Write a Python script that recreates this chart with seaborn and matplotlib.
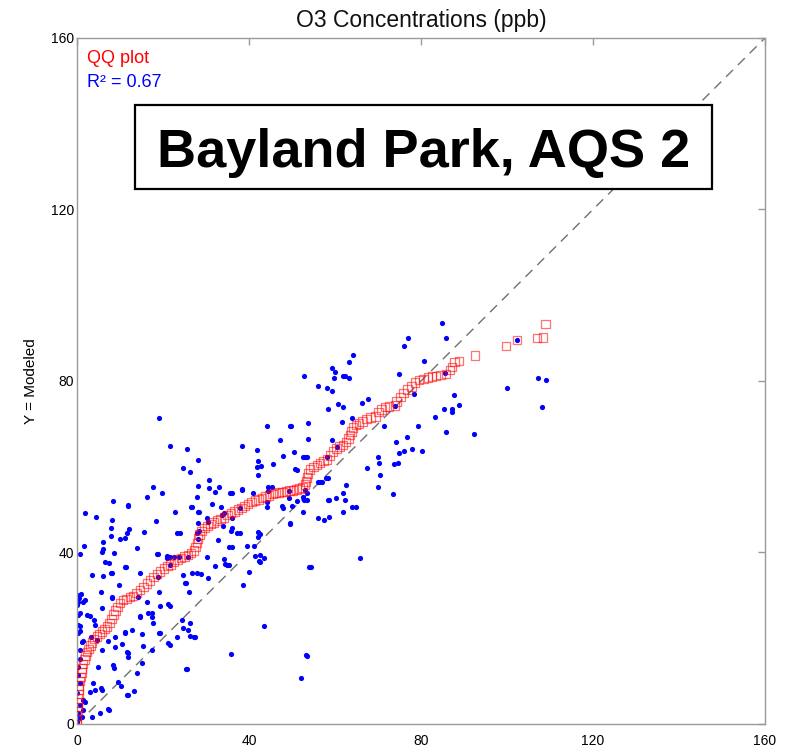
import numpy as np
import pandas as pd
import seaborn as sns
import matplotlib.pyplot as plt
from matplotlib.patches import Rectangle

obs = [0.0, 0.3, 1.1, 3.5, 0.2, 5.3, 1.4, 7.2, 7.4, 0.7, 1.9, 1.4, 0.0, 3.0, 4.2, 5.8, 5.6, 3.7, 0.7, 9.5,
       0.2, 0.2, 4.9, 8.4, 8.6, 0.7, 0.7, 5.8, 8.8, 1.1, 1.4, 4.7, 7.2, 3.3, 8.8, 0.2, 0.7, 0.7, 0.2, 4.2,
       4.0, 0.2, 2.3, 3.0, 0.7, 5.8, 0.0, 0.2, 1.4, 1.8, 0.5, 0.0, 1.0, 8.1, 8.1, 5.6, 9.8, 3.5, 6.0, 8.1,
       7.9, 6.5, 7.4, 0.7, 5.8, 6.0, 8.6, 1.6, 6.0, 7.9, 7.9, 1.9, 4.4, 8.1, 8.4,
       10.2, 11.9, 11.6, 13.3, 14.0, 15.1, 11.9, 11.6, 11.9, 15.3, 10.5, 17.4, 11.2, 12.8, 11.2, 15.1, 19.3,
       19.1, 14.7, 14.7, 16.5, 17.4, 17.4, 17.7, 14.2, 16.3, 19.3, 19.1, 18.8, 14.7, 11.4, 11.2, 18.6, 18.8,
       14.0, 11.6, 12.1, 11.2, 10.0, 15.6, 18.4, 11.9, 11.9, 16.3, 17.7, 19.8, 19.1,
       21.6, 21.2, 23.3, 24.7, 24.4, 25.8, 26.3, 26.3, 27.4, 27.2, 25.3, 25.6, 21.6, 21.2, 26.0, 25.1, 25.3,
       24.7, 26.7, 27.9, 28.8, 20.9, 21.6, 20.9, 22.6, 23.8, 25.8, 21.6, 23.3, 24.0, 27.9, 28.1, 28.1, 28.4,
       22.8, 26.5, 26.7, 28.1, 28.4, 27.9, 28.1, 24.7, 26.3, 28.1, 21.6, 25.6,
       30.2, 30.5, 32.1, 34.2, 34.4, 34.9, 35.3, 35.3, 32.8, 35.8, 36.0, 37.2, 37.9, 36.0, 34.0, 30.5, 33.7,
       36.0, 33.5, 31.4, 30.2, 34.2, 37.9, 30.7, 30.7, 32.1, 33.0, 35.6, 36.0, 38.4, 38.4, 38.4, 35.8, 38.6,
       39.5,
       40.0, 41.4, 42.6, 42.3, 42.6, 43.5, 41.2, 42.1, 42.1, 42.6, 40.9, 44.2, 44.2, 44.4, 44.4, 45.3, 42.1,
       41.9, 42.8, 42.1, 41.9, 45.6, 44.2, 47.2, 47.9, 49.5, 49.8, 47.7, 47.9, 49.5, 49.5, 49.3, 43.5, 49.3,
       50.5, 50.7, 51.2, 52.6, 53.5, 53.0, 53.7, 53.7, 52.8, 52.8, 53.5, 53.5, 52.6, 50.0, 51.2, 52.6, 53.0,
       54.0, 54.4, 53.3, 53.5, 52.1, 56.0, 58.1, 59.3, 59.3, 60.0, 59.8, 58.4, 59.3, 58.1, 57.9, 56.0, 56.5,
       58.6, 56.0, 57.4, 58.6, 57.0, 58.4, 58.4,
       60.2, 62.6, 61.9, 62.3, 64.0, 64.9, 61.9, 60.5, 60.7, 61.9, 61.6, 64.0, 66.3, 67.7, 61.9, 62.3, 63.3,
       63.3, 64.2, 67.4, 65.8,
       70.0, 70.2, 70.5, 70.0, 73.7, 74.7, 73.5, 74.9, 76.0, 77.9, 80.2, 74.2, 76.7, 79.3, 74.0, 78.4, 74.9,
       76.0, 77.0, 80.7, 84.9, 85.8, 83.3, 85.8, 85.3, 87.2, 87.2, 88.8, 87.7, 92.3, 85.6, 100.0, 107.2,
       109.1, 108.1, 102.3, 71.4]
mod = [0.5, 1.5, 1.6, 1.6, 2.6, 2.6, 3.3, 3.5, 3.2, 4.5, 5.1, 5.6, 7.2, 7.5, 7.9, 7.9, 8.4, 9.6, 9.6, 9.8,
       11.5, 13.3, 13.3, 13.8, 13.1, 15.2, 17.3, 17.3, 18.0, 19.1, 19.3, 19.6, 19.4, 20.3, 20.3, 21.2, 21.6,
       22.9, 23.1, 23.1, 24.3, 25.4, 25.4, 25.2, 25.9, 27.1, 27.8, 28.5, 28.5, 28.9, 29.3, 30.0, 30.2, 29.4,
       29.6, 30.8, 32.4, 34.8, 34.5, 35.2, 35.2, 37.8, 37.6, 39.7, 40.1, 40.8, 39.9, 41.5, 42.4, 43.8, 45.7,
       49.2, 48.3, 47.6, 52.0,
       8.9, 6.8, 6.8, 7.7, 11.9, 14.2, 16.6, 16.8, 15.6, 18.2, 18.7, 17.3, 21.2, 21.9, 21.5, 21.0, 21.2, 21.2,
       25.2, 25.0, 25.9, 25.0, 25.9, 23.6, 29.6, 28.5, 27.5, 30.8, 34.3, 35.2, 36.6, 36.6, 39.7, 39.7, 41.0,
       44.5, 45.5, 43.4, 43.2, 44.8, 47.3, 50.8, 51.1, 52.9, 55.3, 53.9, 71.4,
       18.4, 18.9, 20.3, 22.4, 24.3, 21.9, 23.6, 20.5, 20.3, 20.3, 12.8, 12.8, 27.5, 28.0, 30.8, 32.9, 32.9,
       34.8, 35.2, 35.2, 35.0, 38.7, 39.0, 39.2, 39.0, 39.0, 38.9, 37.1, 44.5, 44.5, 44.5, 43.1, 46.9, 45.0,
       49.4, 50.6, 50.6, 49.4, 49.4, 52.9, 55.5, 59.7, 58.8, 61.6, 64.8, 64.1,
       39.0, 34.0, 36.9, 38.5, 37.3, 37.1, 37.0, 41.3, 42.9, 45.0, 45.7, 44.5, 44.5, 41.3, 46.2, 47.1, 48.7,
       48.0, 50.6, 51.3, 48.0, 49.2, 50.4, 56.9, 55.0, 54.1, 55.3, 53.9, 53.9, 54.6, 54.8, 64.8, 16.3, 32.4,
       41.5,
       35.5, 39.2, 39.4, 38.0, 37.8, 38.7, 41.5, 43.6, 44.8, 44.2, 53.9, 51.8, 50.6, 54.3, 55.3, 55.3, 58.1,
       59.9, 60.2, 61.3, 63.9, 60.6, 69.5, 66.2, 62.5, 69.5, 69.5, 50.8, 50.4, 46.6, 46.9, 54.3, 22.9, 52.7,
       63.4, 59.5, 59.3, 62.3, 62.3, 62.3, 70.2, 66.5, 81.2, 52.2, 53.9, 52.2, 52.9, 50.8, 52.0, 49.4, 54.6,
       36.6, 36.6, 16.1, 15.9, 10.7, 78.8, 78.4, 77.7, 83.0, 82.1, 80.7, 73.5, 66.2, 62.3, 57.4, 56.4, 56.5,
       52.2, 48.0, 47.6, 48.3, 56.4, 57.4, 52.2,
       52.7, 55.7, 53.9, 52.2, 50.6, 50.6, 49.4, 64.6, 74.6, 73.9, 70.4, 71.4, 74.9, 75.8, 81.2, 81.2, 80.7,
       84.4, 86.1, 59.7, 38.7,
       62.3, 60.9, 58.1, 55.3, 60.6, 60.9, 53.6, 63.2, 63.7, 64.1, 63.7, 65.8, 66.9, 69.5, 74.2, 77.0, 81.6,
       88.2, 90.0, 84.7, 93.5, 90.0, 71.6, 68.1, 73.5, 73.5, 72.8, 74.4, 76.7, 67.6, 81.9, 78.4, 80.7,
       80.2, 73.9, 89.6, 69.5]

qq_obs = [0.0, 0.0, 0.0, 0.1, 0.1, 0.2, 0.2, 0.3, 0.4, 0.5, 0.6, 0.8, 1.0, 1.2, 1.4, 1.7, 2.0, 2.3, 2.7, 3.1,
          3.5, 4.0, 4.6, 5.2, 5.8, 6.4, 7.0, 7.5, 8.0, 8.5, 9.0, 9.4, 10.0, 10.7, 11.5, 12.3, 13.0, 13.8,
          14.7, 15.5, 16.3, 17.0, 17.8, 18.6, 19.3, 20.2, 21.0, 21.8, 22.6, 23.4, 24.2, 25.0, 25.8, 26.5,
          27.2, 27.6, 27.9, 28.1, 28.5, 29.0, 29.6, 30.3, 31.0, 31.8, 32.6, 33.4, 34.2, 35.0, 35.8, 36.6,
          37.4, 38.2, 39.0, 39.8, 40.6, 41.4, 42.2, 43.0, 43.8, 44.6, 45.4, 46.2, 47.0, 47.8, 48.6, 49.4,
          50.2, 51.0, 51.8, 52.5, 53.0, 53.3, 53.5, 53.7, 54.2, 55.0, 55.8, 56.5, 57.3, 58.1, 58.8, 59.5,
          60.3, 61.1, 61.9, 62.6, 63.2, 63.5, 63.8, 64.2, 64.9, 65.6, 66.4, 67.3, 68.2, 69.4, 70.1, 70.8,
          71.6, 72.6, 74.0, 74.3, 75.2, 75.9, 76.8, 77.8, 78.6, 79.5, 80.6, 81.6, 82.6, 83.5, 84.5, 85.8,
          86.7, 87.2, 87.8, 88.8, 92.6, 99.8, 102.3, 107.0, 108.4, 109.0]
qq_mod = [0.0, 1.0, 2.0, 3.0, 4.0, 5.0, 6.0, 7.0, 8.0, 9.0, 10.0, 11.0, 12.0, 13.0, 14.0, 15.0, 16.0, 16.8,
          17.5, 18.3, 19.0, 19.8, 20.4, 21.0, 21.6, 22.2, 22.8, 23.6, 24.5, 25.5, 26.5, 27.3, 28.2, 28.9,
          29.2, 29.6, 29.9, 30.5, 31.2, 32.0, 32.8, 33.5, 34.3, 35.0, 35.5, 36.3, 36.8, 37.2, 37.8, 38.3,
          38.7, 39.0, 39.4, 39.9, 40.5, 41.3, 42.2, 43.2, 44.2, 45.0, 45.7, 46.2, 46.6, 47.0, 47.4, 47.8,
          48.2, 48.7, 49.2, 49.6, 50.0, 50.4, 50.8, 51.3, 51.8, 52.1, 52.4, 52.7, 53.0, 53.3, 53.6, 53.9,
          54.0, 54.1, 54.2, 54.4, 54.5, 54.7, 54.9, 55.2, 55.8, 56.6, 57.5, 58.4, 59.3, 59.9, 60.4, 60.9,
          61.3, 61.7, 62.6, 63.6, 64.2, 64.7, 65.1, 65.8, 66.6, 67.4, 68.2, 69.2, 69.7, 70.1, 70.5, 71.1,
          71.5, 71.7, 72.8, 73.4, 73.9, 74.1, 74.3, 75.2, 76.3, 77.2, 78.0, 78.7, 79.6, 80.2, 80.5, 80.8,
          81.0, 81.2, 81.4, 81.6, 82.6, 83.3, 84.4, 84.7, 86.0, 88.2, 89.6, 90.0, 90.1, 93.3]

axis_lim = [0, 160]
ticks = [0, 40, 80, 120, 160]

df = pd.DataFrame({'obs': obs, 'mod': mod})
qq = pd.DataFrame({'obs': qq_obs, 'mod': qq_mod})

sns.set_theme(style='white')
plt.rcParams['font.family'] = ['Liberation Sans', 'DejaVu Sans']
plt.rcParams['text.color'] = 'black'
plt.rcParams['axes.labelcolor'] = 'black'
plt.rcParams['xtick.labelcolor'] = 'black'
plt.rcParams['ytick.labelcolor'] = 'black'

fig = plt.figure(figsize=(7.89, 7.49), dpi=100)
ax = fig.add_axes([0.0976, 0.0334, 0.872, 0.9159])

# 1:1 line
ax.plot(axis_lim, axis_lim, color='#707070', lw=1, dashes=(7, 5), zorder=1)

sns.scatterplot(data=df, x='obs', y='mod', ax=ax, color='#0000ff', marker='o',
                s=14, linewidth=0, zorder=2)
sns.scatterplot(data=qq, x='obs', y='mod', ax=ax, marker='s', s=38,
                facecolor='none', edgecolor='#ff0000', linewidth=0.9, alpha=0.55, zorder=3)

ax.set_xlim(axis_lim)
ax.set_ylim(axis_lim)
ax.set_xticks(ticks)
ax.set_yticks(ticks)
ax.set_xlabel('')
ax.set_ylabel('Y = Modeled', fontsize=11)
ax.yaxis.set_label_coords(-0.057, 0.5)
ax.set_title('O3 Concentrations (ppb)', fontsize=16.5, pad=8, color='#111111')

for sp in ax.spines.values():
    sp.set_visible(True)
    sp.set_color('#9a9a9a')
    sp.set_linewidth(1)
ax.tick_params(direction='in', length=5, width=1, color='#9a9a9a',
               top=True, right=True, labelsize=10)
ax.tick_params(axis='x', pad=7)
ax.tick_params(axis='y', pad=2)

ax.text(0.0145, 0.9636, 'QQ plot', color='#ff0000', fontsize=13,
        transform=ax.transAxes, va='baseline')
ax.text(0.0145, 0.9286, 'R² = 0.67', color='#0000ff', fontsize=13,
        transform=ax.transAxes, va='baseline')

# station label box
ax.add_patch(Rectangle((0.0843, 0.780), 0.839, 0.122, transform=ax.transAxes,
                       facecolor='white', edgecolor='black', linewidth=1.6, zorder=5))
ax.text(0.5037, 0.812, 'Bayland Park, AQS 2', fontsize=39, fontweight='bold',
        ha='center', va='baseline', transform=ax.transAxes, zorder=6)

plt.savefig('out.png', dpi=100)
